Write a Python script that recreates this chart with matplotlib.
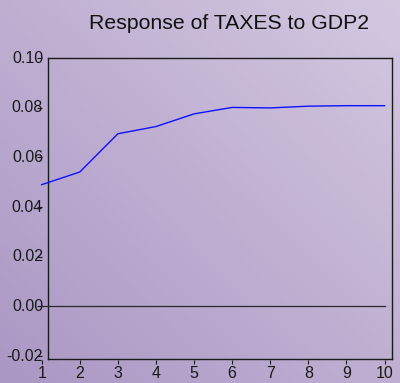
import numpy as np
import matplotlib
matplotlib.use("Agg")
import matplotlib.pyplot as plt
from matplotlib.colors import to_rgb

periods = [1, 2, 3, 4, 5, 6, 7, 8, 9, 10]
response = [0.0490, 0.0541, 0.0695, 0.0724, 0.0775, 0.0801, 0.0799, 0.0806, 0.0808, 0.0808]
y_ticks = [-0.02, 0.00, 0.02, 0.04, 0.06, 0.08, 0.10]
title = "Response of TAXES to GDP2"

W, H = 400, 383
fig = plt.figure(figsize=(W / 100, H / 100), dpi=100)
plt.rcParams['font.family'] = ['Liberation Sans', 'DejaVu Sans']

# background gradient (darker bottom-left, lighter top-right)
bg = fig.add_axes([0, 0, 1, 1], zorder=-10)
bg.set_axis_off()
nx, ny = 200, 200
gx, gy = np.meshgrid(np.linspace(0, 1, nx), np.linspace(0, 1, ny))
t = (gx + gy) / 2.0
c0 = np.array(to_rgb("#aa97c4"))
c1 = np.array(to_rgb("#d3c8e0"))
img = c0[None, None, :] * (1 - t[..., None]) + c1[None, None, :] * t[..., None]
bg.imshow(img, origin="lower", extent=[0, 1, 0, 1], aspect="auto")
bg.set_xlim(0, 1)
bg.set_ylim(0, 1)

def fx(px):
    return px / W

def fy(py):
    return 1 - py / H

# outer box (offset frame, EViews style)
bl, br, bt, bb = 47.5, 392.3, 57.5, 358.5
box = fig.add_axes([fx(bl), fy(bb), fx(br) - fx(bl), fy(tb := bt) - fy(bb)], zorder=1)
box.patch.set_alpha(0)
box.set_xticks([])
box.set_yticks([])
for s in box.spines.values():
    s.set_color("#1a1a1a")
    s.set_linewidth(1.0)

# data axes
il, ir, it, ib = 41.7, 384.5, 58.0, 360.0
ax = fig.add_axes([fx(il), fy(ib), fx(ir) - fx(il), fy(it) - fy(ib)], zorder=2)
ax.patch.set_alpha(0)
ax.set_xlim(1, 10)
ax.set_ylim(-0.0216, 0.10)
for s in ax.spines.values():
    s.set_visible(False)

ax.plot(periods, response, color="#1010ff", lw=1.0, clip_on=False)
ax.plot([periods[0], periods[-1]], [0, 0], color="#2a2a2a", lw=0.9, clip_on=False)

ax.set_xticks(periods)
ax.set_xticklabels([str(p) for p in periods], fontsize=11.5)
ax.set_yticks(y_ticks)
ax.set_yticklabels([f"{v:.2f}" for v in y_ticks], fontsize=11.5)
ax.tick_params(axis="x", direction="out", length=3, width=0.8, pad=1.5, colors="#1a1a1a")
ax.tick_params(axis="y", direction="out", length=3.5, width=0.8, pad=-4.5, colors="#1a1a1a")
for lbl in ax.get_yticklabels():
    lbl.set_verticalalignment("center")

fig.text(229.5 / W, fy(23.5), title, ha="center", va="center", fontsize=15.3, color="#111111")

fig.savefig("out.png", dpi=100)
